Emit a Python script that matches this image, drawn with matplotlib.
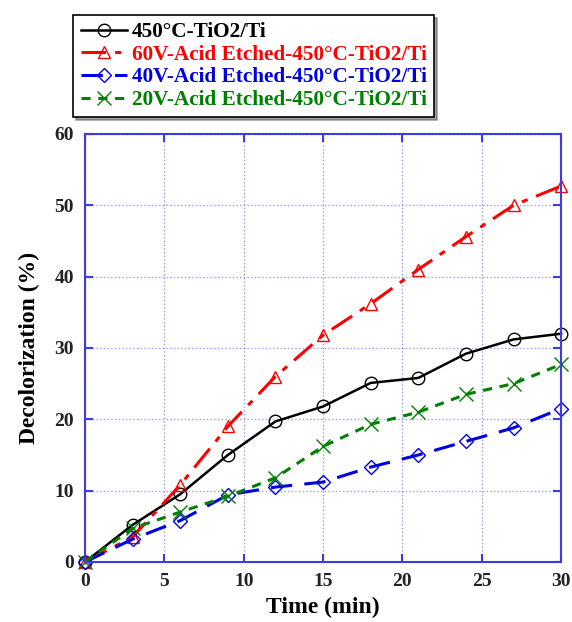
import matplotlib
matplotlib.use('Agg')
import matplotlib.pyplot as plt

plt.rcParams['font.family'] = 'Liberation Serif'
plt.rcParams['font.weight'] = 'bold'

time_min = [0, 3, 6, 9, 12, 15, 18, 21, 24, 27, 30]
plain_450 = [0, 5.2, 9.5, 15.0, 19.7, 21.8, 25.1, 25.8, 29.2, 31.2, 32.0]
etched_60v = [0, 3.5, 10.8, 19.0, 26.0, 31.8, 36.2, 41.0, 45.6, 50.0, 52.7]
etched_40v = [0, 3.2, 5.8, 9.4, 10.5, 11.2, 13.3, 15.0, 16.9, 18.8, 21.5]
etched_20v = [0, 4.7, 7.0, 9.2, 11.8, 16.2, 19.3, 21.0, 23.5, 25.0, 27.7]

labels = ['450°C-TiO2/Ti',
          '60V-Acid Etched-450°C-TiO2/Ti',
          '40V-Acid Etched-450°C-TiO2/Ti',
          '20V-Acid Etched-450°C-TiO2/Ti']

frame_blue = '#3c3ce6'

fig = plt.figure(figsize=(5.72, 6.22), dpi=100)
ax = fig.add_axes([0.1486, 0.0965, 0.8324, 0.6881])

ax.plot(time_min, plain_450, color='black', lw=1.8, marker='o', ms=9,
        mfc='none', mec='black', mew=1.0, label=labels[0], clip_on=False)
ax.plot(time_min, etched_60v, color='red', lw=2.2, dashes=(8, 3, 2, 3),
        marker='^', ms=9, mfc='none', mec='red', mew=1.0, label=labels[1],
        clip_on=False)
ax.plot(time_min, etched_40v, color='#0000e0', lw=2.2, dashes=(7, 4),
        marker='D', ms=7, mfc='none', mec='#0000e0', mew=1.0, label=labels[2],
        clip_on=False)
ax.plot(time_min, etched_20v, color='#008000', lw=2.2, dashes=(3, 2.5),
        marker='x', ms=10, mec='#008000', mew=1.0, label=labels[3],
        clip_on=False)

ax.set_xlim(0, 30)
ax.set_ylim(0, 60)
ax.set_xticks([0, 5, 10, 15, 20, 25, 30])
ax.set_yticks([0, 10, 20, 30, 40, 50, 60])
ax.grid(True, color=frame_blue, linestyle=':', linewidth=1.0, alpha=0.5)
for s in ax.spines.values():
    s.set_color(frame_blue)
    s.set_linewidth(1.5)
ax.tick_params(direction='in', color=frame_blue, length=6, width=1.5,
               top=True, right=True, labelsize=14, pad=8)
for t in ax.get_xticklabels() + ax.get_yticklabels():
    t.set_fontweight('bold')
    t.set_color('#222222')

ax.set_xlabel('Time (min)', fontsize=17, fontweight='bold', labelpad=5)
ax.set_ylabel('Decolorization (%)', fontsize=17, fontweight='bold', labelpad=10)

leg = fig.legend(loc='upper left', bbox_to_anchor=(0.128, 0.976),
                 prop={'family': 'Liberation Serif', 'weight': 'bold', 'size': 15.3},
                 fancybox=False, shadow=True, edgecolor='black',
                 handlelength=2.2, handletextpad=0.2, labelspacing=0.12,
                 borderpad=0.35, borderaxespad=0, frameon=True)
leg.get_frame().set_linewidth(1.2)
for txt, c in zip(leg.get_texts(), ['black', 'red', '#0000e0', '#008000']):
    txt.set_color(c)

fig.savefig('out.png', dpi=100)
